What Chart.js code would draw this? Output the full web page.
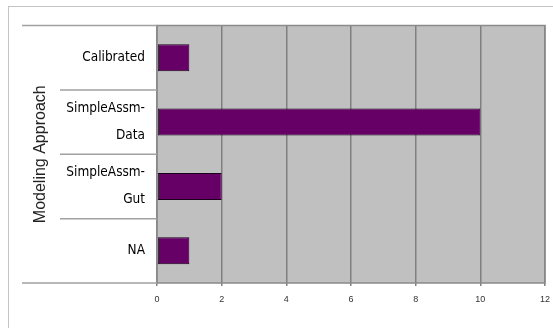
<!DOCTYPE html>
<html>
<head>
<meta charset="utf-8">
<script src="https://cdn.jsdelivr.net/npm/chart.js@4"></script>
<style>
  body { margin: 0; background: #fff; }
  #frame { position: absolute; left: 8px; top: 6px; width: 600px; height: 400px;
           border-left: 1px solid #c4c4c4; border-top: 1px solid #c4c4c4; }
  #c { position: absolute; left: 0; top: 0; }
</style>
</head>
<body>
<div id="frame"></div>
<canvas id="c" width="553" height="328"></canvas>
<script>
const categories = ['Calibrated', ['SimpleAssm-', 'Data'], ['SimpleAssm-', 'Gut'], 'NA']
const counts = [1, 10, 2, 1]
const xTicks = [0, 2, 4, 6, 8, 10, 12]

const labelFont = "'DejaVu Sans Condensed', 'Liberation Sans Narrow', 'Liberation Sans', sans-serif"

// grey plot area, outline and the category separators on the left
const plotFrame = {
  id: 'plotFrame',
  beforeDraw(chart) {
    const { ctx, chartArea: a } = chart
    ctx.save()
    ctx.fillStyle = '#c0c0c0'
    ctx.fillRect(a.left, a.top, a.right - a.left, a.bottom - a.top)
    ctx.restore()
  },
  afterDraw(chart) {
    const { ctx, chartArea: a } = chart
    const y = chart.scales.y
    ctx.save()
    ctx.strokeStyle = '#8a8a8a'
    ctx.lineWidth = 1.5
    ctx.strokeRect(a.left, a.top, a.right - a.left, a.bottom - a.top)

    ctx.strokeStyle = '#a0a0a0'
    ctx.lineWidth = 1.5
    const n = categories.length
    for (let i = 0; i <= n; i++) {
      let py, x0
      if (i === 0) { py = a.top; x0 = 22 }
      else if (i === n) { py = a.bottom; x0 = 22 }
      else { py = (y.getPixelForValue(i - 1) + y.getPixelForValue(i)) / 2; x0 = 60 }
      ctx.beginPath()
      ctx.moveTo(x0, py)
      ctx.lineTo(a.left, py)
      ctx.stroke()
    }
    ctx.restore()
  }
}

new Chart(document.getElementById('c'), {
  type: 'bar',
  data: {
    labels: categories,
    datasets: [{
      data: counts,
      backgroundColor: '#660066',
      borderColor: '#1a001a',
      borderWidth: 1,
      borderSkipped: false,
      categoryPercentage: 1,
      barPercentage: 0.42
    }]
  },
  options: {
    indexAxis: 'y',
    responsive: false,
    animation: false,
    devicePixelRatio: 1,
    layout: { padding: { top: 23, right: 8, left: 0, bottom: 0 }, autoPadding: false },
    plugins: {
      legend: { display: false },
      tooltip: { enabled: false }
    },
    scales: {
      x: {
        min: 0,
        max: 12,
        afterBuildTicks(scale) {
          scale.ticks = xTicks.map(v => ({ value: v }))
        },
        afterFit(scale) {
          scale.height = 45
          scale.paddingLeft = 0
          scale.paddingRight = 0
        },
        grid: {
          color: '#808080',
          lineWidth: 1.5,
          tickLength: 3,
          tickColor: '#808080'
        },
        border: { display: false },
        ticks: {
          padding: 8,
          color: '#333',
          font: { family: "'Liberation Sans', Arial, sans-serif", size: 9 }
        }
      },
      y: {
        afterFit(scale) { scale.width = 157 },
        grid: { display: false, drawTicks: false },
        border: { display: false },
        ticks: {
          padding: 12,
          color: '#000',
          font: { family: labelFont, size: 13.5, lineHeight: '27px' }
        },
        title: {
          display: true,
          text: 'Modeling Approach',
          color: '#222',
          padding: { top: 31, bottom: 0 },
          font: { family: "'Liberation Sans', Arial, sans-serif", size: 16 }
        }
      }
    }
  },
  plugins: [plotFrame]
})
</script>
</body>
</html>
